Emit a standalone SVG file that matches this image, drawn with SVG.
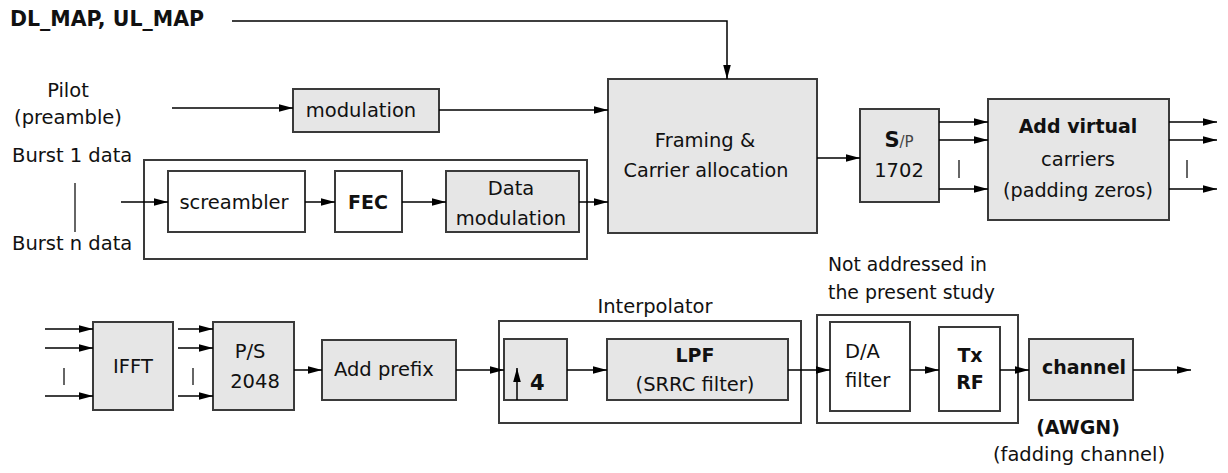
<svg xmlns="http://www.w3.org/2000/svg" width="1228" height="473" viewBox="0 0 1228 473">
<defs>
<marker id="arr" markerUnits="userSpaceOnUse" markerWidth="15" markerHeight="10" refX="14" refY="5" orient="auto">
<path d="M0,1.2 L14,5 L0,8.8 Z" fill="#000"/>
</marker>
<style>
.box{fill:#e6e6e6;stroke:#3a3a3a;stroke-width:2}
.wbox{fill:#fff;stroke:#3a3a3a;stroke-width:2}
.grp{fill:none;stroke:#3a3a3a;stroke-width:2}
.ar{fill:none;stroke:#000;stroke-width:1.5;marker-end:url(#arr)}
.bar{stroke:#333;stroke-width:1.5}
text{font-family:"DejaVu Sans","Liberation Sans",sans-serif;font-size:19.5px;fill:#111}
.b{font-weight:bold;font-size:19px}
.c{text-anchor:middle}
</style>
</defs>
<rect width="1228" height="473" fill="#fff"/>

<g id="labels">
<text x="10" y="26" class="b" style="font-size:20.5px">DL_MAP, UL_MAP</text>
<text x="68" y="97" class="c">Pilot</text>
<text x="68" y="124" class="c">(preamble)</text>
<text x="12" y="162">Burst 1 data</text>
<text x="12" y="250">Burst n data</text>
<line class="bar" x1="75" y1="183" x2="75" y2="232"/>
</g>

<g id="modulation">
<rect class="box" x="293" y="89" width="146" height="43"/>
<text x="361" y="117" class="c">modulation</text>
</g>

<g id="burst-chain">
<rect class="grp" x="144" y="160" width="443" height="99"/>
</g>

<g id="screambler">
<rect class="wbox" x="168" y="171" width="137" height="61"/>
<text x="234" y="209" class="c">screambler</text>
</g>

<g id="fec">
<rect class="wbox" x="335" y="171" width="67" height="61"/>
<text x="368" y="209" class="c b">FEC</text>
</g>

<g id="data-modulation">
<rect class="box" x="446" y="171" width="133" height="61"/>
<text x="511" y="195" class="c">Data</text>
<text x="511" y="225" class="c">modulation</text>
</g>

<g id="framing">
<rect class="box" x="608" y="79" width="209" height="154"/>
<text x="705" y="147" class="c">Framing &amp;</text>
<text x="706" y="177" class="c" textLength="165" lengthAdjust="spacingAndGlyphs">Carrier allocation</text>
</g>

<g id="sp">
<rect class="box" x="860" y="109" width="79" height="93"/>
<text x="899" y="147" class="c"><tspan class="b" style="font-size:21px">S</tspan><tspan style="font-size:15px;fill:#444">/P</tspan></text>
<text x="899" y="177" class="c">1702</text>
</g>

<g id="add-virtual">
<rect class="box" x="988" y="99" width="181" height="121"/>
<text x="1078" y="133" class="c b">Add virtual</text>
<text x="1078" y="166" class="c">carriers</text>
<text x="1078" y="197" class="c" textLength="150" lengthAdjust="spacingAndGlyphs">(padding zeros)</text>
</g>

<g id="ifft">
<rect class="box" x="93" y="322" width="80" height="88"/>
<text x="133" y="373" class="c">IFFT</text>
</g>

<g id="ps">
<rect class="box" x="213" y="322" width="81" height="88"/>
<text x="250" y="358" class="c">P/S</text>
<text x="255" y="388" class="c">2048</text>
</g>

<g id="add-prefix">
<rect class="box" x="322" y="340" width="134" height="60"/>
<text x="334" y="376">Add prefix</text>
</g>

<g id="interpolator">
<rect class="grp" x="499" y="321" width="302" height="102"/>
<text x="655" y="313" class="c">Interpolator</text>
</g>

<g id="upsample">
<rect class="box" x="504" y="339" width="63" height="61"/>
<text x="530" y="390" class="b" style="font-size:21px">4</text>
</g>

<g id="lpf">
<rect class="box" x="607" y="339" width="181" height="61"/>
<text x="695" y="362" class="c b">LPF</text>
<text x="695" y="391" class="c">(SRRC filter)</text>
</g>

<g id="not-addressed">
<rect class="grp" x="817" y="315" width="201" height="108"/>
<text x="828" y="271" textLength="159" lengthAdjust="spacingAndGlyphs">Not addressed in</text>
<text x="828" y="299" textLength="167" lengthAdjust="spacingAndGlyphs">the present study</text>
</g>

<g id="da">
<rect class="wbox" x="830" y="322" width="80" height="89"/>
<text x="845" y="358">D/A</text>
<text x="845" y="387">filter</text>
</g>

<g id="txrf">
<rect class="wbox" x="939" y="327" width="61" height="84"/>
<text x="970" y="362" class="c b">Tx</text>
<text x="970" y="389" class="c b">RF</text>
</g>

<g id="channel">
<rect class="box" x="1029" y="339" width="104" height="61"/>
<text x="1084" y="374" class="c b">channel</text>
<text x="1078" y="434" class="c b">(AWGN)</text>
<text x="1079" y="461" class="c" textLength="172" lengthAdjust="spacingAndGlyphs">(fadding channel)</text>
</g>

<g id="connectors">
<path class="ar" d="M232,21 H727 V79"/>
<path class="ar" d="M172,108 H293"/>
<path class="ar" d="M439,110 H608"/>
<path class="ar" d="M121,202 H168"/>
<path class="ar" d="M305,202 H335"/>
<path class="ar" d="M402,202 H446"/>
<path class="ar" d="M579,202 H608"/>
<path class="ar" d="M817,158 H860"/>
<path class="ar" d="M939,122 H988"/>
<path class="ar" d="M939,140 H988"/>
<path class="ar" d="M939,189 H988"/>
<line class="bar" x1="959" y1="160" x2="959" y2="178"/>
<path class="ar" d="M1169,122 H1217"/>
<path class="ar" d="M1169,140 H1217"/>
<path class="ar" d="M1169,189 H1217"/>
<line class="bar" x1="1187" y1="160" x2="1187" y2="178"/>
<path class="ar" d="M45,329 H93"/>
<path class="ar" d="M45,348 H93"/>
<path class="ar" d="M45,396 H93"/>
<line class="bar" x1="64" y1="368" x2="64" y2="385"/>
<path class="ar" d="M178,329 H213"/>
<path class="ar" d="M178,348 H213"/>
<path class="ar" d="M178,396 H213"/>
<line class="bar" x1="193" y1="368" x2="193" y2="385"/>
<path class="ar" d="M294,370 H322"/>
<path class="ar" d="M456,370 H504"/>
<path class="ar" d="M517,400 V368"/>
<path class="ar" d="M567,370 H607"/>
<path class="ar" d="M788,370 H830"/>
<path class="ar" d="M910,370 H939"/>
<path class="ar" d="M1000,370 H1029"/>
<path class="ar" d="M1133,370 H1191"/>
</g>
</svg>
